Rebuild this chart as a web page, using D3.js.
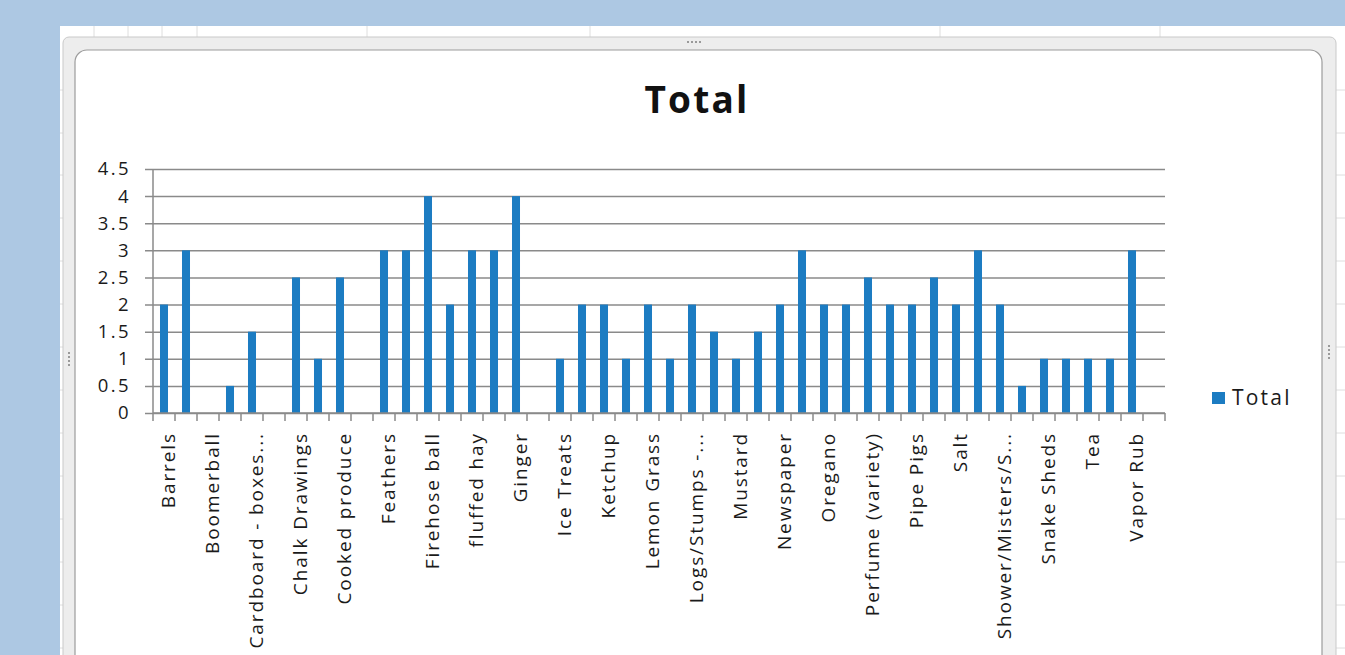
<!DOCTYPE html>
<html>
<head>
<meta charset="utf-8">
<script src="https://cdn.jsdelivr.net/npm/d3@7"></script>
<style>
  body { margin: 0; background: #adc8e3; overflow: hidden; }
  svg { display: block; }
</style>
</head>
<body>
<script>
// category names, only every other one is printed on the axis
var categories = ["Barrels", null, "Boomerball", null, "Cardboard - boxes...", null,
  "Chalk Drawings", null, "Cooked produce", null, "Feathers", null,
  "Firehose ball", null, "fluffed hay", null, "Ginger", null,
  "Ice Treats", null, "Ketchup", null, "Lemon Grass", null,
  "Logs/Stumps -...", null, "Mustard", null, "Newspaper", null,
  "Oregano", null, "Perfume (variety)", null, "Pipe Pigs", null,
  "Salt", null, "Shower/Misters/S...", null, "Snake Sheds", null,
  "Tea", null, "Vapor Rub", null];
var totals = [2, 3, null, 0.5, 1.5, null, 2.5, 1, 2.5, null,
  3, 3, 4, 2, 3, 3, 4, null, 1, 2,
  2, 1, 2, 1, 2, 1.5, 1, 1.5, 2, 3,
  2, 2, 2.5, 2, 2, 2.5, 2, 3, 2, 0.5,
  1, 1, 1, 1, 3, null];
var yTicks = [0, 0.5, 1, 1.5, 2, 2.5, 3, 3.5, 4, 4.5];
var seriesName = "Total";

var W = 1345, H = 655;
var barColor = "#1c7cc2";
var gridColor = "#8a8a8a";
var textColor = "#1a1a1a";

var svg = d3.select("body").append("svg").attr("width", W).attr("height", H);

// worksheet behind the chart
svg.append("rect").attr("x", 60).attr("y", 26).attr("width", W - 60).attr("height", H - 26).attr("fill", "#fff");
var sheet = svg.append("g").attr("stroke", "#dedede").attr("stroke-width", 1);
[90, 133, 175, 218, 261, 304, 347, 390, 433, 476, 519, 562, 605, 648].forEach(function(r) {
  sheet.append("line").attr("x1", 60).attr("x2", W).attr("y1", r).attr("y2", r);
});
[94, 128, 162, 197, 367, 590, 940, 1160].forEach(function(c) {
  sheet.append("line").attr("x1", c).attr("x2", c).attr("y1", 26).attr("y2", H);
});

// chart frame
svg.append("rect").attr("x", 63).attr("y", 37).attr("width", 1273).attr("height", 640)
  .attr("rx", 6).attr("fill", "#ededed").attr("stroke", "#c9c9c9");
svg.append("rect").attr("x", 75).attr("y", 50).attr("width", 1247).attr("height", 620)
  .attr("rx", 12).attr("fill", "#fff").attr("stroke", "#9c9c9c").attr("stroke-width", 1.2);
// little sizing handles
[[687, 42, "h"], [69, 352, "v"], [1329, 345, "v"]].forEach(function(p) {
  for (var k = 0; k < 4; k++) {
    svg.append("rect")
      .attr("x", p[2] == "h" ? p[0] + k * 4 : p[0] - 1)
      .attr("y", p[2] == "h" ? p[1] - 1 : p[1] + k * 4)
      .attr("width", 2).attr("height", 2).attr("fill", "#9a9a9a");
  }
});

var plotLeft = 153, plotRight = 1165, plotTop = 169, plotBottom = 413;

var x = d3.scaleBand().domain(d3.range(categories.length))
  .range([plotLeft, plotRight]).paddingInner(0.636).paddingOuter(0.318);
var y = d3.scaleLinear().domain([0, 4.5]).range([plotBottom, plotTop]);

// gridlines + y axis
var yAxis = d3.axisLeft(y).tickValues(yTicks).tickSize(8).tickFormat(d3.format("~g"));
var gy = svg.append("g").attr("transform", "translate(" + plotLeft + ",0)").call(yAxis);
gy.select(".domain").remove();
gy.selectAll(".tick line").attr("stroke", gridColor).attr("stroke-width", 1.5)
  .attr("x1", plotRight - plotLeft);
gy.selectAll(".tick text")
  .attr("x", -22)
  .attr("font-family", "'Open Sans', sans-serif").attr("font-size", 18.5)
  .attr("letter-spacing", 2.4).attr("fill", textColor);
svg.append("line").attr("x1", plotLeft).attr("x2", plotLeft).attr("y1", plotTop).attr("y2", plotBottom)
  .attr("stroke", gridColor).attr("stroke-width", 1.5);

// bars
svg.append("g").selectAll("rect")
  .data(totals.map(function(v, i) { return {i: i, v: v}; }).filter(function(d) { return d.v != null; }))
  .enter().append("rect")
  .attr("x", function(d) { return x(d.i); })
  .attr("width", x.bandwidth())
  .attr("y", function(d) { return y(d.v); })
  .attr("height", function(d) { return y(0) - y(d.v); })
  .attr("fill", barColor);

// x axis with ticks between categories
var edges = d3.range(categories.length + 1).map(function(i) { return plotLeft + i * x.step(); });
var gx = svg.append("g").attr("stroke", gridColor).attr("stroke-width", 1.5);
gx.append("line").attr("x1", plotLeft).attr("x2", plotRight).attr("y1", plotBottom).attr("y2", plotBottom);
gx.selectAll("line.tk").data(edges).enter().append("line").attr("class", "tk")
  .attr("x1", function(d) { return d; }).attr("x2", function(d) { return d; })
  .attr("y1", plotBottom).attr("y2", plotBottom + 8);

svg.append("g").selectAll("text")
  .data(categories.map(function(c, i) { return {i: i, c: c}; }).filter(function(d) { return d.c; }))
  .enter().append("text")
  .attr("transform", function(d) {
    return "translate(" + (x(d.i) + x.bandwidth() / 2 + 4) + "," + (plotBottom + 19) + ") rotate(-90)";
  })
  .attr("text-anchor", "end")
  .attr("dy", "0.35em")
  .attr("font-family", "'Open Sans', sans-serif").attr("font-size", 19)
  .attr("letter-spacing", 1.9).attr("fill", textColor)
  .text(function(d) { return d.c; });

// title
svg.append("text").attr("x", 697).attr("y", 113).attr("text-anchor", "middle")
  .attr("font-family", "'Open Sans', sans-serif").attr("font-weight", "bold")
  .attr("font-size", 37).attr("letter-spacing", 2.2).attr("fill", "#111")
  .text(seriesName);

// legend
svg.append("rect").attr("x", 1212).attr("y", 392).attr("width", 13).attr("height", 12).attr("fill", barColor);
svg.append("text").attr("x", 1232).attr("y", 405)
  .attr("font-family", "'Open Sans', sans-serif").attr("font-size", 21)
  .attr("letter-spacing", 2.2).attr("fill", textColor)
  .text(seriesName);
</script>
</body>
</html>
